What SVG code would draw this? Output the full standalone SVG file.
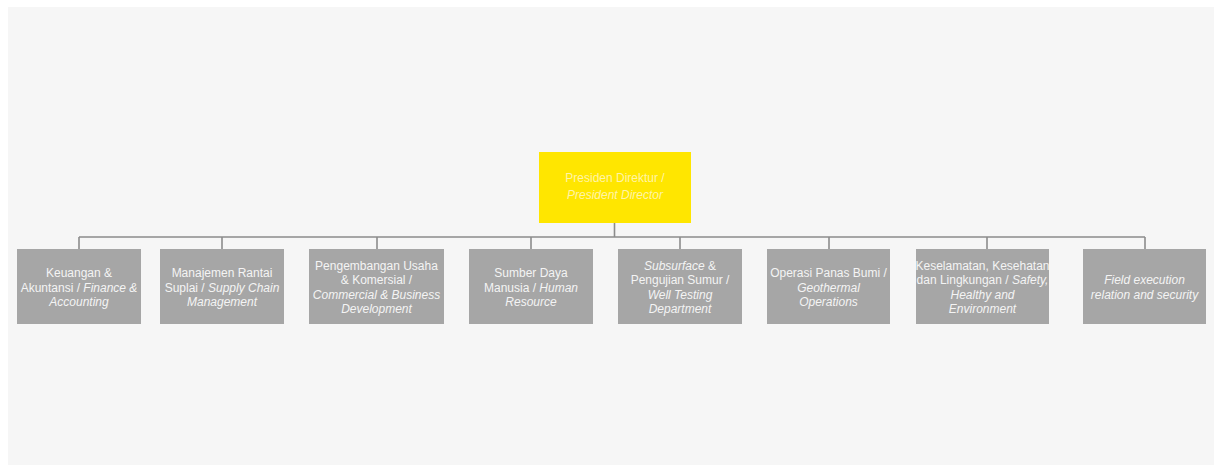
<svg xmlns="http://www.w3.org/2000/svg" width="1221" height="465" viewBox="0 0 1221 465">
<style>
.bg{fill:#f6f6f6}
.top rect{fill:#ffe600}
.top text{fill:#fff4a8}
.child rect{fill:#a6a6a6}
.child text{fill:#f4f4f4}
text{font-family:"Liberation Sans",Arial,sans-serif;font-size:12px;text-anchor:middle}
.i{font-style:italic}
.conn{stroke:#8c8c8c;stroke-width:1.6;fill:none}
</style>
<rect width="1221" height="465" fill="#ffffff"/>
<rect class="bg" x="8" y="7" width="1206" height="458"/>
<g id="connectors" class="conn">
<path d="M614.5 223V237M79 237H1145M79 237V249M222 237V249M377 237V249M531 237V249M680 237V249M829 237V249M987 237V249M1145 237V249"/>
</g>
<g id="president" class="top">
<rect x="539" y="152" width="152" height="71"/>
<text x="615" y="182">Presiden Direktur /</text>
<text x="615" y="199" class="i">President Director</text>
</g>
<g id="finance" class="child">
<rect x="17" y="249" width="124" height="75"/>
<text x="79" y="277">Keuangan &amp;</text>
<text x="79" y="291.5">Akuntansi / <tspan class="i">Finance &amp;</tspan></text>
<text x="79" y="306" class="i">Accounting</text>
</g>
<g id="supply" class="child">
<rect x="160" y="249" width="124" height="75"/>
<text x="222" y="277">Manajemen Rantai</text>
<text x="222" y="291.5">Suplai / <tspan class="i">Supply Chain</tspan></text>
<text x="222" y="306" class="i">Management</text>
</g>
<g id="commercial" class="child">
<rect x="309" y="249" width="135" height="75"/>
<text x="376.5" y="269.5">Pengembangan Usaha</text>
<text x="376.5" y="284">&amp; Komersial /</text>
<text x="376.5" y="298.5" class="i">Commercial &amp; Business</text>
<text x="376.5" y="313" class="i">Development</text>
</g>
<g id="hr" class="child">
<rect x="469" y="249" width="124" height="75"/>
<text x="531" y="277">Sumber Daya</text>
<text x="531" y="291.5">Manusia / <tspan class="i">Human</tspan></text>
<text x="531" y="306" class="i">Resource</text>
</g>
<g id="subsurface" class="child">
<rect x="618" y="249" width="124" height="75"/>
<text x="680" y="269.5"><tspan class="i">Subsurface</tspan> &amp;</text>
<text x="680" y="284">Pengujian Sumur /</text>
<text x="680" y="298.5" class="i">Well Testing</text>
<text x="680" y="313" class="i">Department</text>
</g>
<g id="geothermal" class="child">
<rect x="767" y="249" width="123" height="75"/>
<text x="828.5" y="277">Operasi Panas Bumi /</text>
<text x="828.5" y="291.5" class="i">Geothermal</text>
<text x="828.5" y="306" class="i">Operations</text>
</g>
<g id="hse" class="child">
<rect x="916" y="249" width="133" height="75"/>
<text x="982.5" y="269.5">Keselamatan, Kesehatan</text>
<text x="982.5" y="284">dan Lingkungan / <tspan class="i">Safety,</tspan></text>
<text x="982.5" y="298.5" class="i">Healthy and</text>
<text x="982.5" y="313" class="i">Environment</text>
</g>
<g id="field" class="child">
<rect x="1083" y="249" width="123" height="75"/>
<text x="1144.5" y="284" class="i">Field execution</text>
<text x="1144.5" y="298.5" class="i">relation and security</text>
</g>
</svg>
